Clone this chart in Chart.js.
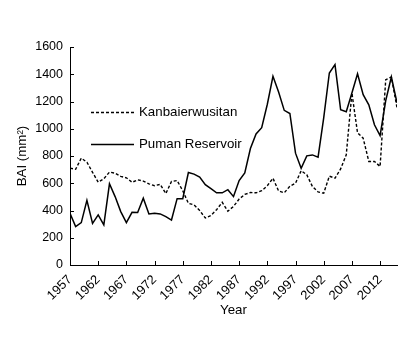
<!DOCTYPE html>
<html>
<head>
<meta charset="utf-8">
<script src="https://cdn.jsdelivr.net/npm/chart.js@4/dist/chart.umd.min.js"></script>
<style>
  html, body { margin: 0; padding: 0; background: #fff; }
  #wrap { position: relative; width: 413px; height: 361px; }
</style>
</head>
<body>
<div id="wrap"><canvas id="c" width="413" height="361"></canvas></div>
<script>
const years = [1957,1958,1959,1960,1961,1962,1963,1964,1965,1966,
               1967,1968,1969,1970,1971,1972,1973,1974,1975,1976,
               1977,1978,1979,1980,1981,1982,1983,1984,1985,1986,
               1987,1988,1989,1990,1991,1992,1993,1994,1995,1996,
               1997,1998,1999,2000,2001,2002,2003,2004,2005,2006,
               2007,2008,2009,2010,2011,2012,2013,2014,2015];
const kanbaierwusitan = [711,703,784,755,680,608,633,682,674,650,
                         640,607,625,616,596,582,592,524,613,620,
                         545,453,441,400,345,364,406,460,395,430,
                         484,518,532,530,545,582,637,543,530,578,
                         600,692,662,576,536,527,652,637,705,809,
                         1262,970,931,760,760,723,1360,1380,1155];
const pumanReservoir = [380,282,311,475,306,368,294,596,502,392,
                        311,387,385,490,375,380,375,355,330,487,
                        487,679,667,645,590,560,530,530,553,502,
                        620,676,855,962,1008,1180,1385,1270,1135,1112,
                        821,710,801,808,792,1080,1409,1471,1140,1125,
                        1262,1404,1250,1176,1029,949,1207,1380,1190];
const seriesNames = ['Kanbaierwusitan', 'Puman Reservoir'];
const xTickYears = [1957,1962,1967,1972,1977,1982,1987,1992,1997,2002,2007,2012];
const yTicks = [0,200,400,600,800,1000,1200,1400,1600];
const xTitle = 'Year';
const yTitle = 'BAI (mm²)';

const FONT = 'Arial, "Liberation Sans", sans-serif';

const insideTicks = {
  id: 'insideTicks',
  afterDraw(chart) {
    const ctx = chart.ctx;
    const xs = chart.scales.x, ys = chart.scales.y;
    const ca = chart.chartArea;
    ctx.save();
    ctx.strokeStyle = '#000';
    ctx.lineWidth = 1;
    ctx.beginPath();
    xs.ticks.forEach(t => {
      const px = Math.round(xs.getPixelForValue(t.value)) + 0.5;
      ctx.moveTo(px, ca.bottom);
      ctx.lineTo(px, ca.bottom - 4);
    });
    ys.ticks.forEach(t => {
      const py = Math.round(ys.getPixelForValue(t.value)) + 0.5;
      ctx.moveTo(ca.left, py);
      ctx.lineTo(ca.left + 4, py);
    });
    ctx.stroke();
    ctx.restore();
  }
};

const innerLegend = {
  id: 'innerLegend',
  afterDraw(chart) {
    const ctx = chart.ctx;
    ctx.save();
    ctx.font = '13.3px ' + FONT;
    ctx.fillStyle = '#000';
    ctx.textBaseline = 'middle';
    ctx.textAlign = 'left';
    const rows = [112, 144];
    chart.data.datasets.forEach((ds, i) => {
      const y = rows[i] + 0.5;
      ctx.strokeStyle = '#000';
      ctx.lineWidth = 1.4;
      ctx.setLineDash(ds.borderDash || []);
      ctx.beginPath();
      ctx.moveTo(91, y);
      ctx.lineTo(134, y);
      ctx.stroke();
      ctx.setLineDash([]);
      ctx.fillText(ds.label, 139, rows[i]);
    });
    ctx.restore();
  }
};

new Chart(document.getElementById('c'), {
  type: 'line',
  data: {
    datasets: [
      {
        label: seriesNames[0],
        data: years.map((yr, i) => ({ x: yr, y: kanbaierwusitan[i] })),
        borderColor: '#000',
        borderWidth: 1.4,
        borderDash: [3, 2],
        pointRadius: 0,
        tension: 0,
        fill: false
      },
      {
        label: seriesNames[1],
        data: years.map((yr, i) => ({ x: yr, y: pumanReservoir[i] })),
        borderColor: '#000',
        borderWidth: 1.5,
        pointRadius: 0,
        tension: 0,
        fill: false
      }
    ]
  },
  options: {
    responsive: false,
    animation: false,
    devicePixelRatio: 1,
    layout: { padding: { top: 47, right: 16, left: 0, bottom: 0 } },
    plugins: { legend: { display: false }, tooltip: { enabled: false } },
    scales: {
      x: {
        type: 'linear',
        min: years[0],
        max: years[years.length - 1],
        afterBuildTicks: s => { s.ticks = xTickYears.map(v => ({ value: v })); },
        afterFit: s => { s.height = 96; },
        grid: { display: false, drawTicks: false },
        border: { display: true, color: '#000', width: 1 },
        ticks: {
          autoSkip: false,
          minRotation: 45,
          maxRotation: 45,
          padding: 7,
          color: '#000',
          font: { family: FONT, size: 13 },
          callback: v => String(v)
        },
        title: {
          display: true,
          text: xTitle,
          color: '#000',
          font: { family: FONT, size: 13.3 },
          padding: { top: 0, bottom: 43 }
        }
      },
      y: {
        min: 0,
        max: 1600,
        afterBuildTicks: s => { s.ticks = yTicks.map(v => ({ value: v })); },
        afterFit: s => { s.width = 70; },
        grid: { display: false, drawTicks: false },
        border: { display: true, color: '#000', width: 1 },
        ticks: {
          padding: 7,
          color: '#000',
          font: { family: FONT, size: 12.5 },
          callback: v => String(v)
        },
        title: {
          display: true,
          text: yTitle,
          color: '#000',
          font: { family: FONT, size: 13.3 },
          padding: { top: 14, bottom: 0 }
        }
      }
    }
  },
  plugins: [insideTicks, innerLegend]
});
</script>
</body>
</html>
